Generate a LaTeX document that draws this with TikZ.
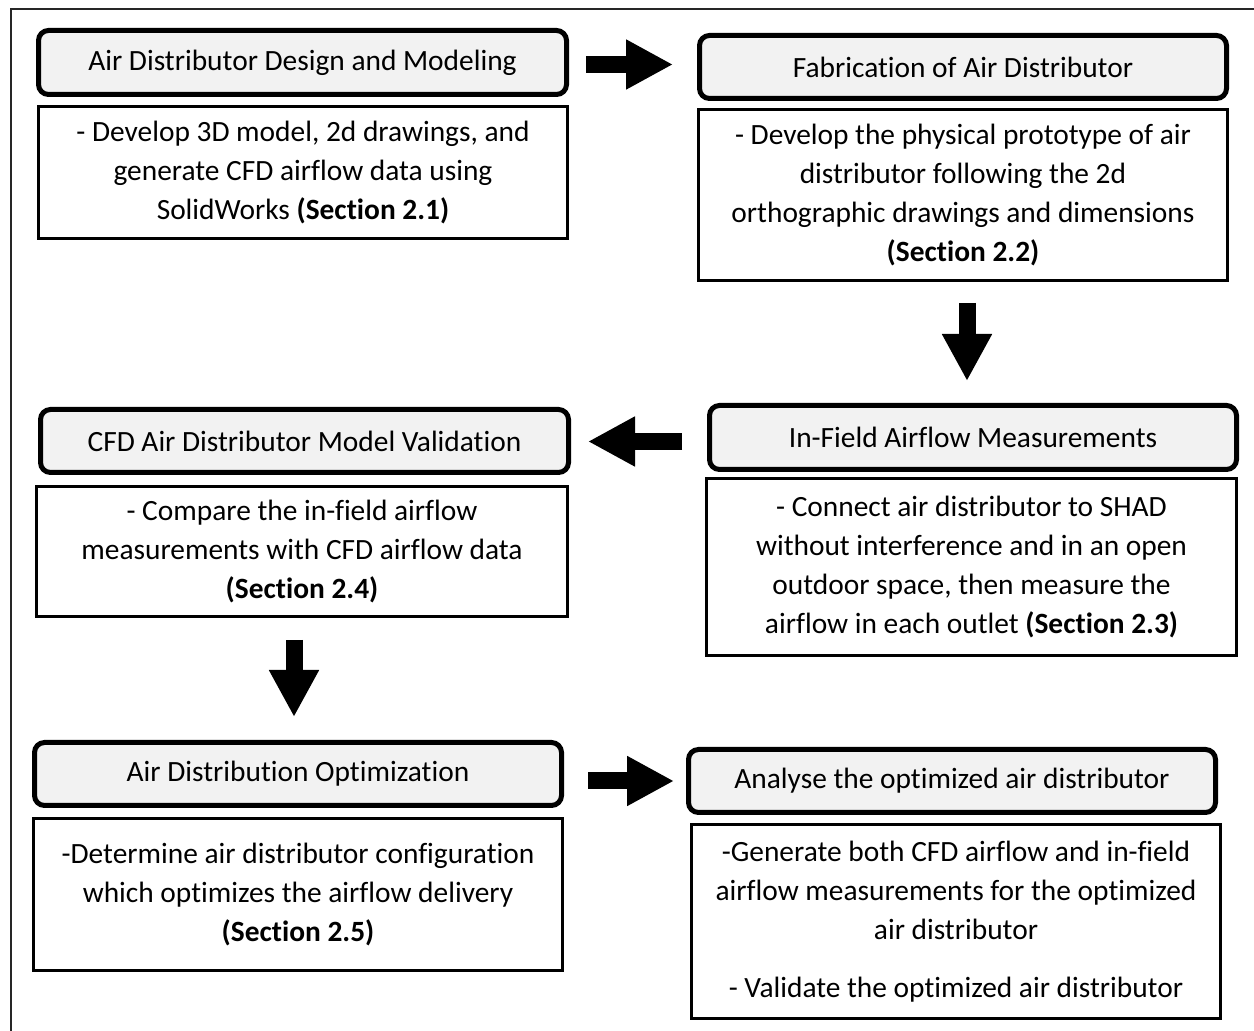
\documentclass[tikz,border=0pt]{standalone}
\usepackage{fontspec}
\setmainfont{Carlito}[Ligatures=NoCommon]
\usetikzlibrary{arrows.meta}
\definecolor{hdrgray}{HTML}{F2F2F2}
\begin{document}
\begin{tikzpicture}[x=0.5pt,y=-0.5pt,
  txt/.style={align=center, inner sep=0pt, font=\fontsize{14.7}{19.5}\selectfont},
  hdr/.style={txt, draw, line width=2.5pt, rounded corners=5pt, fill=hdrgray},
  bodybox/.style={txt, draw, line width=1.5pt},
  fat/.style={line width=8.5pt, -{Triangle[length=23.5pt,width=23.5pt]}}
]
\useasboundingbox (0,0) rectangle (1254,1031);
\draw[line width=1pt, black!85] (11,1045) |- (1270,9);

% row 1
\node[hdr, minimum width=264pt, minimum height=32pt] (h1) at (302.5,62.5) {Air Distributor Design and Modeling};
\node[bodybox, minimum width=264.5pt, minimum height=66pt] (b1) at (303,172.5)
  {- Develop 3D model, 2d drawings, and\\ generate CFD airflow data using\\ SolidWorks \textbf{(Section 2.1)}};
\node[hdr, minimum width=263.5pt, minimum height=31.5pt] (h2) at (963,67) {Fabrication of Air Distributor};
\node[bodybox, minimum width=264.5pt, minimum height=85.5pt] (b2) at (963,195)
  {- Develop the physical prototype of air\\ distributor following the 2d\\ orthographic drawings and dimensions\\ \textbf{(Section 2.2)}};

% row 2
\node[hdr, minimum width=263.5pt, minimum height=32pt] (h3) at (973,437.5) {In-Field Airflow Measurements};
\node[bodybox, minimum width=265pt, minimum height=88.5pt] (b3) at (971.5,567)
  {- Connect air distributor to SHAD\\ without interference and in an open\\ outdoor space, then measure the\\ airflow in each outlet \textbf{(Section 2.3)}};
\node[hdr, minimum width=264pt, minimum height=31.5pt] (h4) at (304.5,441) {CFD Air Distributor Model Validation};
\node[bodybox, minimum width=265.5pt, minimum height=65pt] (b4) at (302,551.5)
  {- Compare the in-field airflow\\ measurements with CFD airflow data\\ \textbf{(Section 2.4)}};

% row 3
\node[hdr, minimum width=263.5pt, minimum height=31.5pt] (h5) at (298,774) {Air Distribution Optimization};
\node[bodybox, minimum width=264.5pt, minimum height=76pt] (b5) at (298,894.5)
  {-Determine air distributor configuration\\ which optimizes the airflow delivery\\ \textbf{(Section 2.5)}};
\node[hdr, minimum width=263.5pt, minimum height=31.5pt] (h6) at (952,781) {Analyse the optimized air distributor};
\node[bodybox, minimum width=264.5pt, minimum height=97pt] (b6) at (956,921.5)
  {-Generate both CFD airflow and in-field\\ airflow measurements for the optimized\\ air distributor\\[9.5pt] - Validate the optimized air distributor};

% arrows
\draw[fat, shorten <=8.5pt, shorten >=12pt] ([yshift=-1pt]h1.east) -- ([yshift=-1pt]h1.east -| h2.west);
\draw[fat, shorten <=10.5pt, shorten >=11pt] ([xshift=2pt]b2.south) -- ([xshift=2pt]b2.south |- h3.north);
\draw[fat, shorten <=12.5pt, shorten >=8.5pt] ([yshift=-2pt]h3.west) -- ([yshift=-2pt]h3.west -| h4.east);
\draw[fat, shorten <=11pt, shorten >=11.5pt] ([xshift=-4pt]b4.south) -- ([xshift=-4pt]b4.south |- h5.north);
\draw[fat, shorten <=12pt, shorten >=6pt] (h6.west -| h5.east) -- (h6.west);
\end{tikzpicture}
\end{document}
